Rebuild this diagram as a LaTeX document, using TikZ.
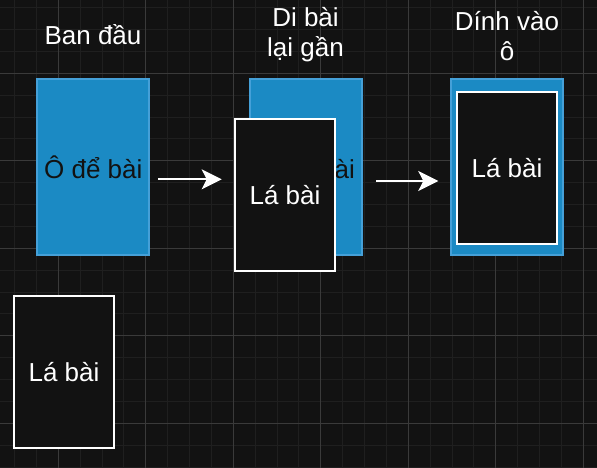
\documentclass[tikz,border=0pt]{standalone}
\usepackage{fontspec}
\setmainfont{Liberation Sans}
\usetikzlibrary{arrows.meta}
\definecolor{bg}{HTML}{121212}
\definecolor{gridminor}{HTML}{1F1F1F}
\definecolor{gridmajor}{HTML}{3A3A3A}
\definecolor{slotfill}{HTML}{1B8AC4}
\definecolor{slotline}{HTML}{45A0D8}
\begin{document}
\begin{tikzpicture}[x=1pt,y=-1pt,
  font=\fontsize{26}{30}\selectfont,
  slot/.style={draw=slotline, fill=slotfill, line width=2pt, minimum width=112pt, minimum height=176pt, inner sep=0pt, text=bg},
  card/.style={draw=white, fill=bg, line width=2pt, minimum width=100pt, minimum height=152pt, inner sep=0pt, text=white},
  title/.style={text=white, align=center, inner sep=0pt},
  flow/.style={draw=white, line width=2pt, -{Stealth[length=20pt,width=20pt,inset=5pt]}},
  minorline/.style={draw=gridminor, line width=1pt},
  majorline/.style={draw=gridmajor, line width=1pt}]
\useasboundingbox (0,0) rectangle (597,468);
\fill[bg] (0,0) rectangle (597,468);
% grid
\foreach \i in {0,...,27} \draw[minorline] ({14.58+21.875*\i},0) -- ++(0,468);
\foreach \i in {0,...,21} \draw[minorline] (0,{7.7+21.875*\i}) -- ++(597,0);
\foreach \i in {0,...,6} \draw[majorline] ({58.33+87.5*\i},0) -- ++(0,468);
\foreach \i in {0,...,4} \draw[majorline] (0,{73.3+87.5*\i}) -- ++(597,0);
% titles (base anchor = last line's baseline)
\node[title, anchor=base] (t1) at (93,45) {Ban đầu};
\node[title, anchor=base] (t2) at (305.5,56.5) {Di bài\\lại gần};
\node[title, anchor=base] (t3) at (507,61) {Dính vào\\ô};
% step 1
\node[slot] (s1) at (93.3,167.2) {Ô để bài};
% step 2
\node[slot] (s2) at (305.8,167.2) {Ô để bài};
\node[card] (c2) at (285,195.3) {Lá bài};
% step 3
\node[slot] (s3) at (507,167.2) {};
\node[card] (c3) at (507,167.8) {Lá bài};
% loose card
\node[card] (c0) at (64,372.2) {Lá bài};
% arrows
\coordinate (a1s) at (158.3,179.3);
\coordinate (a1e) at (221.7,179.3);
\coordinate (a2s) at (376,181);
\coordinate (a2e) at (438.3,181);
\draw[flow] (a1s) -- (a1e);
\draw[flow] (a2s) -- (a2e);
\end{tikzpicture}
\end{document}
